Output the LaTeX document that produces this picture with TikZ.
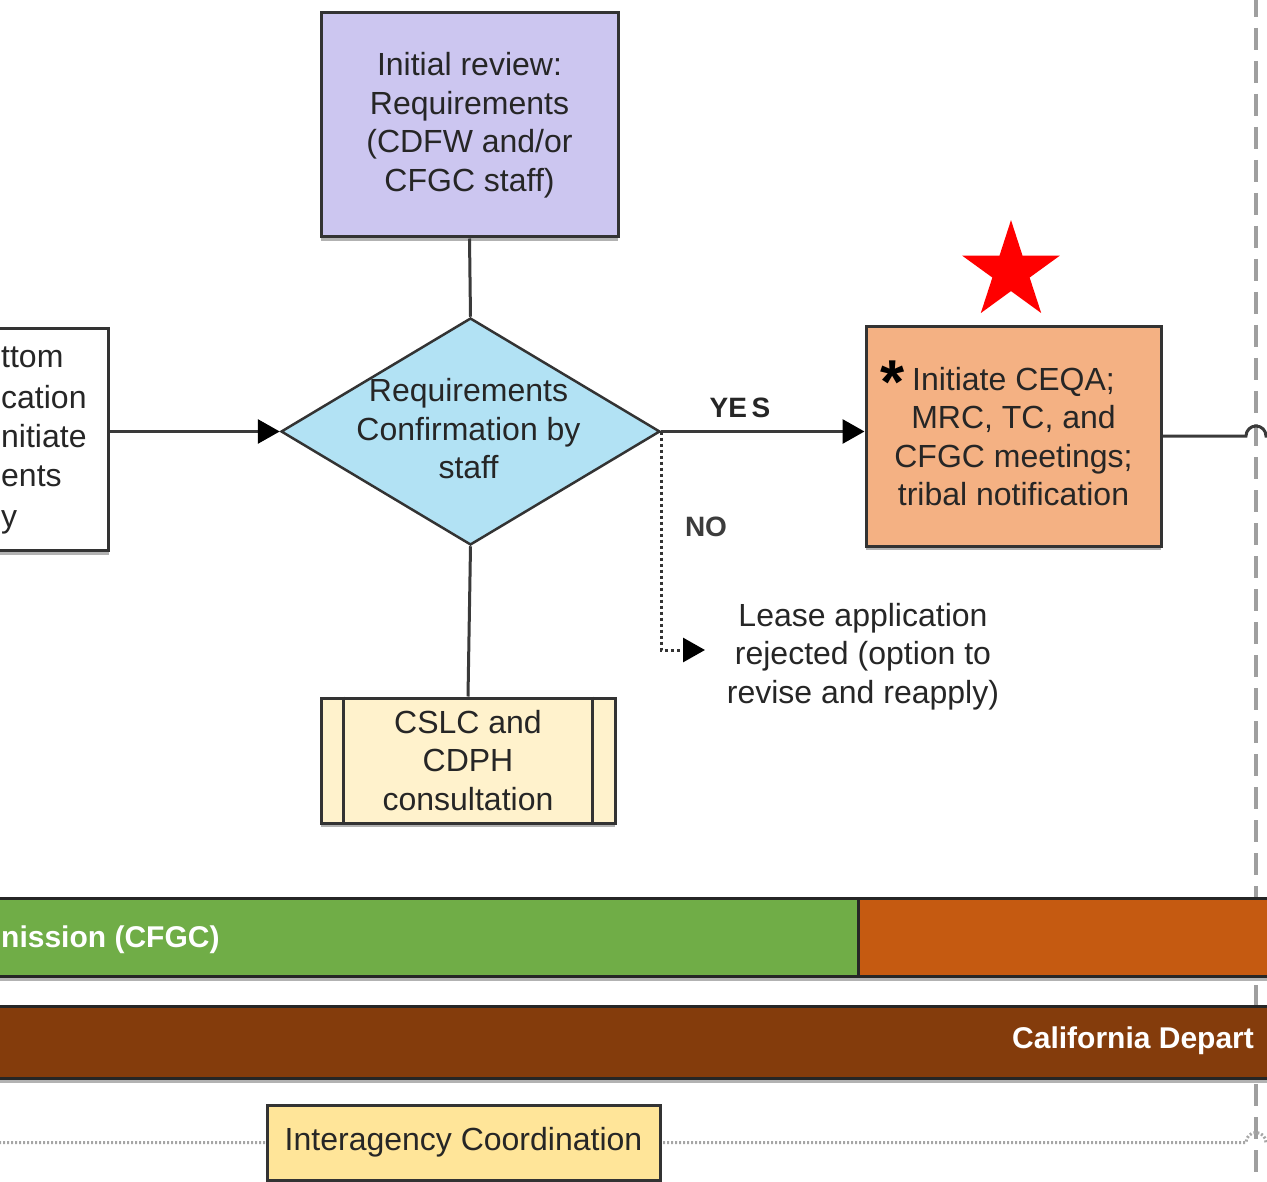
\documentclass[tikz,border=0pt]{standalone}
\usepackage{fontspec}
\setmainfont{Liberation Sans}
\usetikzlibrary{shapes.geometric,arrows.meta,shadows}
\definecolor{cpurple}{RGB}{204,198,240}
\definecolor{cblue}{RGB}{178,226,244}
\definecolor{corange}{RGB}{244,177,131}
\definecolor{cyellow}{RGB}{255,242,204}
\definecolor{cgreen}{RGB}{112,173,71}
\definecolor{cobar}{RGB}{197,90,17}
\definecolor{cbrown}{RGB}{132,60,12}
\definecolor{cia}{RGB}{255,229,153}
\definecolor{boxline}{RGB}{51,51,51}
\definecolor{lnc}{RGB}{58,58,58}
\definecolor{txt}{RGB}{38,38,38}
\newcommand\fsz{\fontsize{32}{38.5}\selectfont}
\newcommand\fbar{\fontsize{30}{36}\selectfont\bfseries}
\begin{document}
\begin{tikzpicture}[x=1pt,y=-1pt,
  boxst/.style={draw=boxline, line width=3pt, inner sep=0pt, align=center, font=\fsz, text=txt,
     drop shadow={shadow xshift=0pt, shadow yshift=-4pt, fill=gray!60, opacity=1}},
  barst/.style={draw=black!85, line width=3pt, inner sep=0pt, anchor=north west,
     drop shadow={shadow xshift=0pt, shadow yshift=-4pt, fill=gray!60, opacity=1}},
  lbl/.style={inner sep=0pt, align=center, font=\fsz, text=txt},
  conn/.style={draw=lnc, line width=3pt},
  tipst/.style={-{Triangle[length=22pt,width=24pt,fill=black,color=black]}},
  dotst/.style={draw=black!80, line width=3pt, dash pattern=on 3pt off 3pt},
  iadots/.style={draw=gray!70, line width=3pt, dash pattern=on 2pt off 2pt},
  vdash/.style={draw=gray!75, line width=4pt, dash pattern=on 22pt off 11pt},
  bartext/.style={inner sep=0pt, font=\fbar, text=white}
]
\useasboundingbox (0,0) rectangle (1267,1182);
\clip (0,0) rectangle (1267,1182);

% vertical dashed separator
\coordinate (vtop) at (1256,-5);
\coordinate (vbot) at (1256,1190);
\draw[vdash] (vtop) -- (vbot);

% left (cut) box
\node[boxst, fill=white, minimum width=140pt, minimum height=222pt, anchor=north west] (lb) at (-33,327) {};
\node[lbl, anchor=base west] (lb1) at (1,367) {ttom};
\node[lbl, anchor=base west] (lb2) at (1,408) {cation};
\node[lbl, anchor=base west] (lb3) at (1,447) {nitiate};
\node[lbl, anchor=base west] (lb4) at (1,486) {ents};
\node[lbl, anchor=base west] (lb5) at (1,527) {y};

% purple box
\node[boxst, fill=cpurple, minimum width=297pt, minimum height=224pt] (pr) at (469.5,125)
  {Initial review:\\Requirements\\(CDFW and/or\\CFGC staff)};

% diamond
\node[diamond, draw=boxline, line width=2.5pt, fill=cblue, aspect=1.67, minimum width=379pt,
  minimum height=227pt, inner sep=0pt] (d) at (470.5,431.5) {};
\node[lbl] (dt) at (468.5,429) {Requirements\\Confirmation by\\staff};

% orange box
\node[boxst, fill=corange, minimum width=295pt, minimum height=219pt] (ob) at (1013.5,436.5)
  {Initiate CEQA;\\MRC, TC, and\\CFGC meetings;\\tribal notification};
\node[inner sep=0pt, font=\fontsize{62}{62}\selectfont\bfseries, text=black] (ast) at (893,382) {*};

% red star
\fill[red, shift={(1011,271.5)}] (-90:51.4)
  \foreach \k in {0,...,4}{ -- ({-54+72*\k}:19.6) -- ({-18+72*\k}:51.4) } -- cycle;

% yellow process box
\node[boxst, fill=cyellow, minimum width=294pt, minimum height=125pt] (cs) at (468,760.5)
  {CSLC and\\CDPH\\consultation};
\draw[boxline, line width=3pt] ([xshift=24pt]cs.north west) -- ([xshift=24pt]cs.south west);
\draw[boxline, line width=3pt] ([xshift=-24pt]cs.north east) -- ([xshift=-24pt]cs.south east);

% lease text
\node[lbl] (lease) at (863,656.5) {Lease application\\rejected (option to\\revise and reapply)};
\coordinate (rej) at (705,650);

% connectors
\draw[conn] (pr.south) -- (d.north);
\draw[conn] (d.south) -- (cs.north);
\draw[conn, tipst] (lb.east |- d.west) -- (d.west);
\draw[conn, tipst] (d.east) -- (ob.west |- d.east);
\node[inner sep=0pt, font=\fontsize{28}{30}\selectfont\bfseries, text=txt] (yes) at (740,408) {YE\,S};
\draw[dotst] (d.east) -- (d.east |- rej) -- ([xshift=-22pt]rej);
\draw[conn, tipst] ([xshift=-22pt]rej) -- (rej);
\node[inner sep=0pt, font=\fontsize{28}{30}\selectfont\bfseries, text=txt!90] (no) at (706,527) {NO};

% output connector with hop
\coordinate (outR) at (1270,436);
\draw[conn] (ob.east |- outR) -- (1246,436) arc (180:360:10) -- (outR);

% bars
\node[barst, fill=cgreen, minimum width=877pt, minimum height=78pt] (gbar) at (-20,897) {};
\node[barst, fill=cobar, minimum width=430pt, minimum height=78pt] (obar) at (857,897) {};
\node[bartext, anchor=base west] (gtext) at (1,947) {nission (CFGC)};
\node[barst, fill=cbrown, minimum width=1310pt, minimum height=72pt] (bbar) at (-20,1005) {};
\node[bartext, anchor=base west] (btext) at (1012,1048) {California Depart};

% interagency coordination
\coordinate (iaL) at (-5,1142.5);
\coordinate (iaR) at (1272,1142.5);
\draw[iadots] (iaL) -- (1246,1142.5) arc (180:360:10) -- (iaR);
\node[boxst, fill=cia, minimum width=393pt, minimum height=75pt] (ia) at (463.5,1142.5)
  {Interagency Coordination};
\end{tikzpicture}
\end{document}
